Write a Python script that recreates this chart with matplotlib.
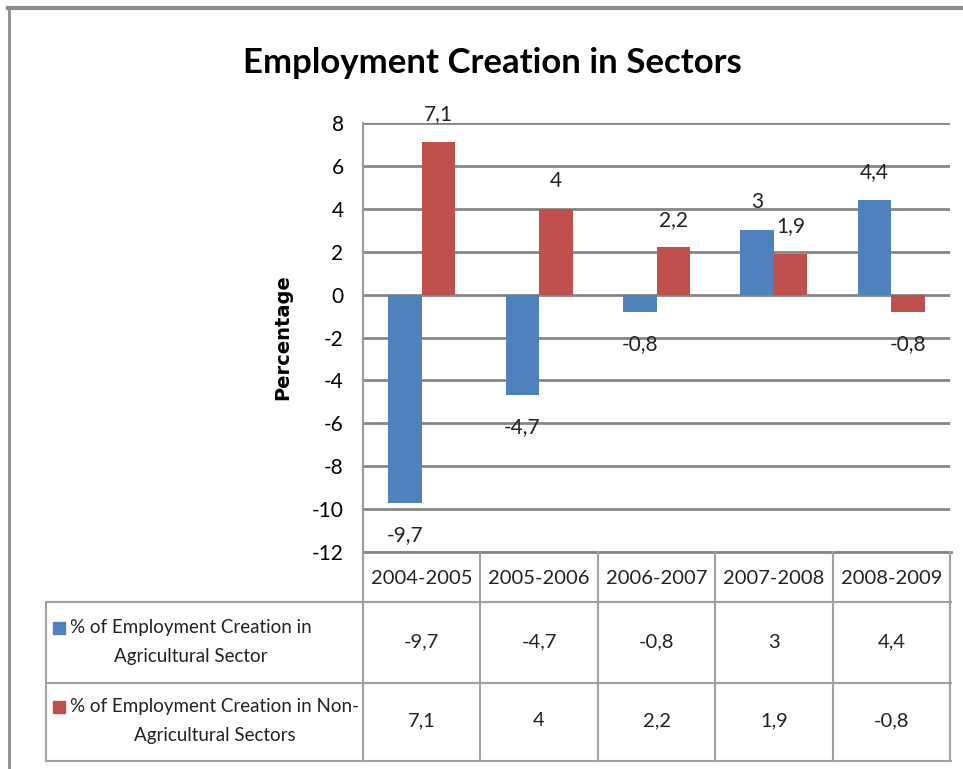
import numpy as np
import matplotlib
matplotlib.use("Agg")
import matplotlib.pyplot as plt
from matplotlib.patches import Rectangle
from matplotlib.lines import Line2D
from matplotlib import transforms

periods = ["2004-2005", "2005-2006", "2006-2007", "2007-2008", "2008-2009"]
agri = [-9.7, -4.7, -0.8, 3, 4.4]
non_agri = [7.1, 4, 2.2, 1.9, -0.8]
series_names = ["% of Employment Creation in\nAgricultural Sector",
                "% of Employment Creation in Non-\nAgricultural Sectors"]
colors = ["#4F81BD", "#C0504D"]
yticks = list(range(-12, 9, 2))

FONT = ["Lato", "DejaVu Sans"]
plt.rcParams["axes.unicode_minus"] = False

W, H = 963, 769
fig = plt.figure(figsize=(W / 100, H / 100), dpi=100)


def fmt(v):
    return f"{v:g}".replace(".", ",")


# main plot area (pixel box: x 363-950, y 123-552)
ax = fig.add_axes([363 / W, 1 - 552 / H, (950 - 363) / W, (552 - 123) / H])
x = np.arange(len(periods))
w = 1 / 3.5
for k, (vals, c) in enumerate(zip([agri, non_agri], colors)):
    xs = x + (k - 0.5) * w
    ax.bar(xs, vals, width=w, color=c, zorder=3)
    for xi, v in zip(xs, vals):
        ax.annotate(fmt(v), (xi, v), xytext=(0, 20 if v > 0 else -23),
                    textcoords="offset points", ha="center", va="center",
                    fontsize=15, family=FONT, color="#222222")

ax.set_xlim(-0.5, len(periods) - 0.5)
ax.set_ylim(-12, 8)
ax.set_yticks(yticks)
ax.set_yticklabels([str(t) for t in yticks], family=FONT, fontsize=15)
ax.tick_params(axis="y", length=0, pad=14)
ax.set_xticks([])
ax.grid(axis="y", color="#868686", linewidth=2, zorder=0)
for s in ["top", "right", "bottom"]:
    ax.spines[s].set_visible(False)
ax.spines["left"].set_color("#9a9a9a")
ax.spines["left"].set_linewidth(1.5)
ax.set_ylabel("Percentage", fontsize=14, fontweight="bold", labelpad=14)

fig.text(492 / W, 1 - 63 / H, "Employment Creation in Sectors", ha="center",
         va="center", fontsize=25, fontweight="bold", family=FONT)

# overlay in pixel coordinates for the data table and frame
ov = fig.add_axes([0, 0, 1, 1], facecolor="none")
ov.set_xlim(0, W)
ov.set_ylim(H, 0)
ov.axis("off")
bt = transforms.blended_transform_factory(ax.transData, ov.transData)

line_kw = dict(color="#a0a0a0", linewidth=1.5)
# horizontal table lines
ov.add_line(Line2D([363, 951], [552, 552], color="#868686", linewidth=2))
for yy in [602, 683, 761]:
    ov.add_line(Line2D([46, 951], [yy, yy], **line_kw))
ov.add_line(Line2D([46, 46], [602, 761], **line_kw))
for b in np.arange(-0.5, len(periods), 1.0):
    ov.add_line(Line2D([b, b], [552, 761], transform=bt, **line_kw))

# header row
for i, p in enumerate(periods):
    ov.text(i, 578, p, transform=bt, ha="center", va="center",
            fontsize=14.5, family=FONT, color="#222222")

# value rows
row_centers = [642, 721]
for r, (vals, name, c) in enumerate(zip([agri, non_agri], series_names, colors)):
    yc = row_centers[r]
    for i, v in enumerate(vals):
        ov.text(i, yc, fmt(v), transform=bt, ha="center", va="center",
                fontsize=14.5, family=FONT, color="#222222")
    ov.text(70, yc, name, ha="left", va="center", multialignment="center",
            fontsize=13.5, family=FONT, color="#222222", linespacing=1.85)
    ov.add_patch(Rectangle((53, yc - 20), 12, 12, color=c))

# outer chart frame
ov.add_line(Line2D([8, W], [8, 8], color="#8c8c8c", linewidth=3))
ov.add_line(Line2D([9, 9], [8, H], color="#8c8c8c", linewidth=2))

fig.savefig("out.png", dpi=100)
